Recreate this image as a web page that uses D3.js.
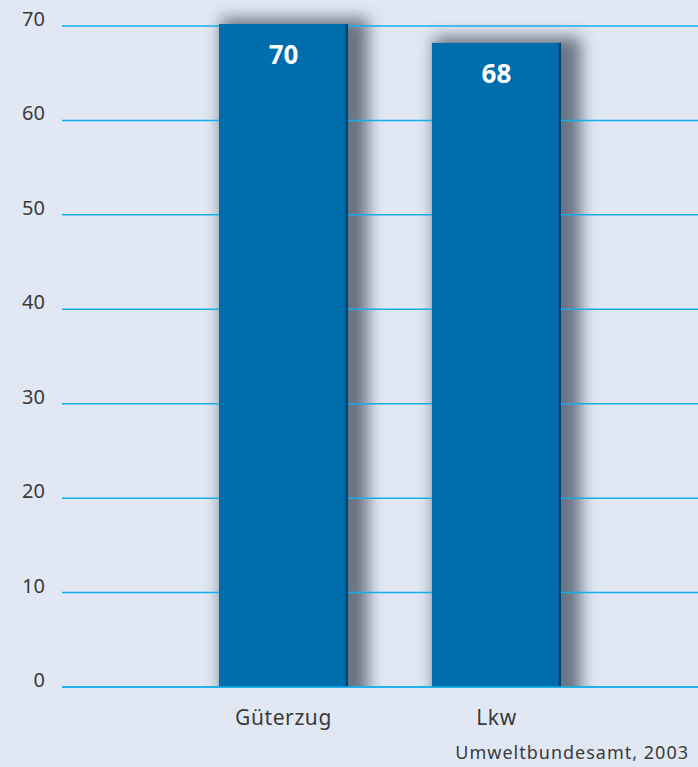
<!DOCTYPE html>
<html>
<head>
<meta charset="utf-8">
<script src="https://cdn.jsdelivr.net/npm/d3@7"></script>
<style>
  html, body { margin: 0; padding: 0; background: #e1e8f4; }
  svg { display: block; }
  text { font-family: "Noto Sans", "Open Sans", sans-serif; }
</style>
</head>
<body>
<svg id="chart" width="698" height="767"></svg>
<script>
// Categories and values
const categories = ["Güterzug", "Lkw"];
const values = [70, 68];
const yTicks = [0, 10, 20, 30, 40, 50, 60, 70];
const source = "Umweltbundesamt, 2003";

const W = 698, H = 767;
const svg = d3.select("#chart");

svg.append("rect").attr("width", W).attr("height", H).attr("fill", "#e1e8f4");

const y = d3.scaleLinear().domain([0, 70]).range([687, 26]);
const x = d3.scaleBand().domain(categories)
  .range([112.5, 667.5]).paddingInner(0.394).paddingOuter(0.5);

const data = categories.map((c, i) => ({ c, v: values[i] }));

// Soft drop shadow behind the bars, clipped at the baseline
const defs = svg.append("defs");
const f = defs.append("filter").attr("id", "shade")
  .attr("x", "-40%").attr("y", "-10%").attr("width", "180%").attr("height", "120%");
f.append("feGaussianBlur").attr("stdDeviation", 8);
defs.append("clipPath").attr("id", "aboveBase")
  .append("rect").attr("x", 0).attr("y", 0).attr("width", W).attr("height", y(0));

svg.append("g").attr("clip-path", "url(#aboveBase)")
  .selectAll("rect").data(data).join("rect")
  .attr("x", d => x(d.c) + 2)
  .attr("y", d => y(d.v) - 8)
  .attr("width", x.bandwidth() + 18)
  .attr("height", d => y(0) - y(d.v) + 30)
  .attr("fill", "#3c4658").attr("opacity", 0.72)
  .attr("filter", "url(#shade)");

// Gridlines and tick labels
const grid = svg.append("g");
grid.selectAll("line").data(yTicks).join("line")
  .attr("x1", 62).attr("x2", W)
  .attr("y1", d => y(d)).attr("y2", d => y(d))
  .attr("stroke", "#16aee9").attr("stroke-width", 1.5);
grid.selectAll("text").data(yTicks).join("text")
  .attr("x", 45).attr("y", d => y(d))
  .attr("text-anchor", "end")
  .attr("font-size", 20).attr("fill", "#3a3a3a")
  .text(d => d);

const bars = svg.append("g");
bars.selectAll("rect.bar").data(data).join("rect")
  .attr("class", "bar")
  .attr("x", d => x(d.c))
  .attr("y", d => y(d.v) - 2)
  .attr("width", x.bandwidth())
  .attr("height", d => y(0) - y(d.v) + 2)
  .attr("fill", "#006dad");

// darker right edge of each bar
bars.selectAll("rect.edge").data(data).join("rect")
  .attr("class", "edge")
  .attr("x", d => x(d.c) + x.bandwidth() - 2.5)
  .attr("y", d => y(d.v) - 2)
  .attr("width", 2.5)
  .attr("height", d => y(0) - y(d.v) + 2)
  .attr("fill", "#00466f");

// Baseline over the bars
svg.append("line").attr("x1", 62).attr("x2", W)
  .attr("y1", y(0)).attr("y2", y(0))
  .attr("stroke", "#16aee9").attr("stroke-width", 1.5);

// Value labels
bars.selectAll("text.val").data(data).join("text")
  .attr("class", "val")
  .attr("x", d => x(d.c) + x.bandwidth() / 2)
  .attr("y", d => y(d.v) + 38)
  .attr("text-anchor", "middle")
  .attr("font-size", 26).attr("font-weight", "bold").attr("fill", "#ffffff")
  .text(d => d.v);

// Category labels
svg.append("g").selectAll("text").data(categories).join("text")
  .attr("x", d => x(d) + x.bandwidth() / 2)
  .attr("y", 725)
  .attr("text-anchor", "middle")
  .attr("font-size", 21).attr("letter-spacing", 0.6).attr("fill", "#3a3a3a")
  .text(d => d);

svg.append("text")
  .attr("x", 689).attr("y", 759)
  .attr("text-anchor", "end")
  .attr("font-size", 18).attr("letter-spacing", 1).attr("fill", "#3a3a3a")
  .text(source);
</script>
</body>
</html>
